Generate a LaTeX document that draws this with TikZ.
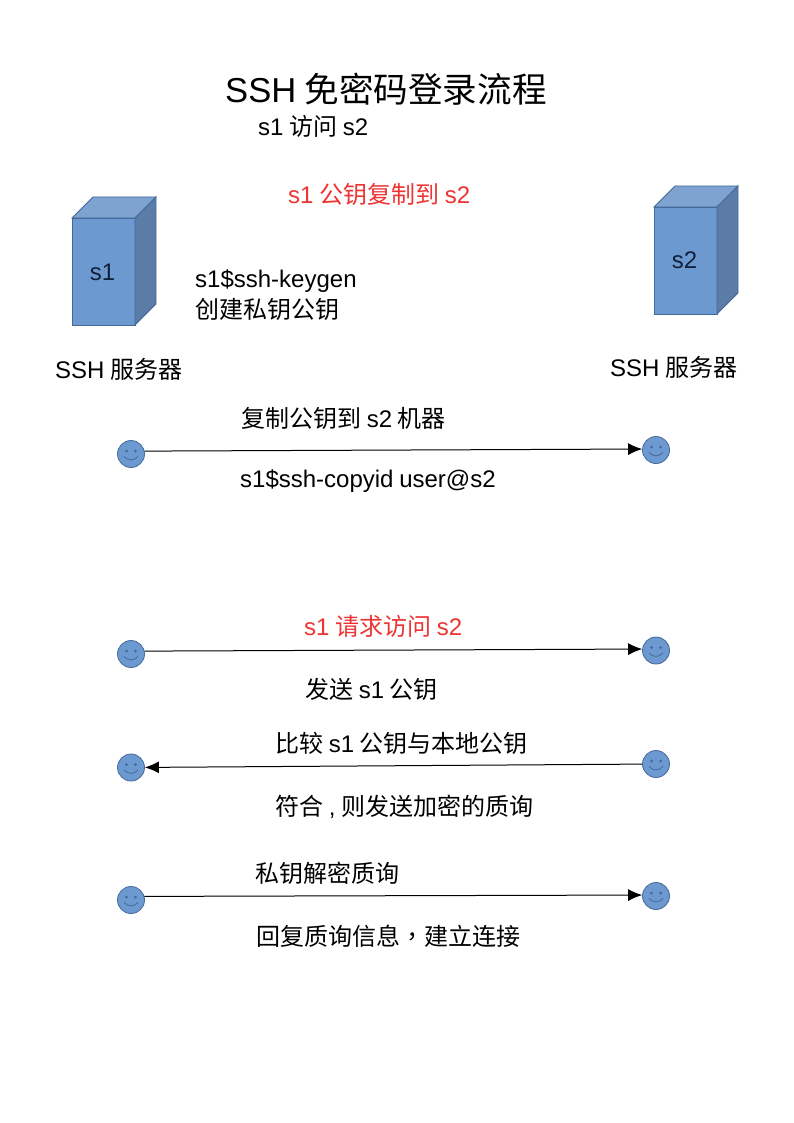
\documentclass[tikz,border=0pt]{standalone}
\usepackage{fontspec}
\setmainfont[WordSpace=0.85]{Liberation Sans}
\newfontfamily\cjk{Noto Sans CJK SC}
\newfontfamily\cjktc{Noto Sans CJK TC}
\newcommand{\zh}[1]{{\cjk #1}}
\usetikzlibrary{arrows.meta}
\definecolor{boxf}{HTML}{6C9AD0}
\definecolor{boxt}{HTML}{7FA3D0}
\definecolor{boxs}{HTML}{5B7CA6}
\definecolor{boxl}{HTML}{44699A}
\definecolor{redt}{HTML}{EE3333}
\definecolor{darkt}{HTML}{10203A}
\tikzset{x=1pt,y=-1pt,
 lab/.style={inner sep=0pt,anchor=base west,font=\fontsize{24pt}{29pt}\selectfont},
 hot/.style={lab,text=redt},
 face/.style={lab,anchor=base,text=darkt},
 smile/.style={circle,draw=boxl,fill=boxf,line width=.8pt,minimum size=27pt,inner sep=0pt},
 feature/.style={boxl,line width=.8pt},
 link/.style={line width=1pt,-{Latex[length=14pt,width=12pt]},black}}
% front face: #1 left, #2 top
\newcommand{\srv}[2]{%
 \path[fill=boxf,draw=boxl,line width=.8pt] (#1,#2) rectangle ++(63,107);
 \path[fill=boxt,draw=boxl,line width=.8pt] (#1,#2) -- ++(21,-21) -- ++(63,0) -- ++(-21,21) -- cycle;
 \path[fill=boxs,draw=boxl,line width=.8pt] (#1+63,#2) -- ++(21,-21) -- ++(0,107) -- ++(-21,21) -- cycle;
}
% smiley: #1 name, #2 x, #3 y
\newcommand{\smiley}[3]{%
 \node[smile] (#1) at (#2,#3) {};
 \fill[boxl] (#2-4.5,#3-3) circle (1.5) (#2+4.5,#3-3) circle (1.5);
 \draw[feature] (#2-7,#3+2.5) .. controls (#2-3,#3+7) and (#2+3,#3+7) .. (#2+7,#3+2.5);
}
\begin{document}
\begin{tikzpicture}
\useasboundingbox (0,0) rectangle (794,1123);
\fill[white] (0,0) rectangle (794,1123);
\srv{72}{218}
\srv{654}{207}
\node[face] (n1) at (102.5,280) {s1};
\node[face] (n2) at (684.5,268) {s2};
\node[lab,font=\fontsize{34.6pt}{40pt}\selectfont] (title) at (225,103) {SSH \zh{免密码登录流程}};
\node[lab] (t1) at (258,136) {s1 \zh{访问} s2};
\node[hot] (t2) at (288,204) {s1 \zh{公钥复制到} s2};
\node[lab] (t3) at (195,287) {s1\$ssh-keygen};
\node[lab] (t4) at (195,318) {\zh{创建私钥公钥}};
\node[lab] (t5) at (55,378) {SSH \zh{服务器}};
\node[lab] (t6) at (610,376) {SSH \zh{服务器}};
\node[lab] (t7) at (241,427) {\zh{复制公钥到} s2 \zh{机器}};
\node[lab] (t8) at (240,487) {s1\$ssh-copyid user@s2};
\node[hot] (t9) at (304,635) {s1 \zh{请求访问} s2};
\node[lab] (t10) at (305,698) {\zh{发送} s1 \zh{公钥}};
\node[lab] (t11) at (275,752) {\zh{比较} s1 \zh{公钥与本地公钥}};
\node[lab] (t12) at (275,815) {\zh{符合} , \zh{则发送加密的质询}};
\node[lab] (t13) at (255,882) {\zh{私钥解密质询}};
\node[lab] (t14) at (256,945) {\zh{回复质询信息}{\cjktc ，}\zh{建立连接}};
\smiley{a1}{131}{454}\smiley{b1}{656}{450}
\smiley{a2}{131}{654}\smiley{b2}{656}{650.5}
\smiley{a3}{131}{767.5}\smiley{b3}{656}{764}
\smiley{a4}{131}{900}\smiley{b4}{656}{896}
\draw[link] (a1.12) -- (b1.176);
\draw[link] (a2.12) -- (b2.174);
\draw[link] (b3) -- (a3);
\draw[link] (a4.15) -- (b4.176);
\end{tikzpicture}
\end{document}
